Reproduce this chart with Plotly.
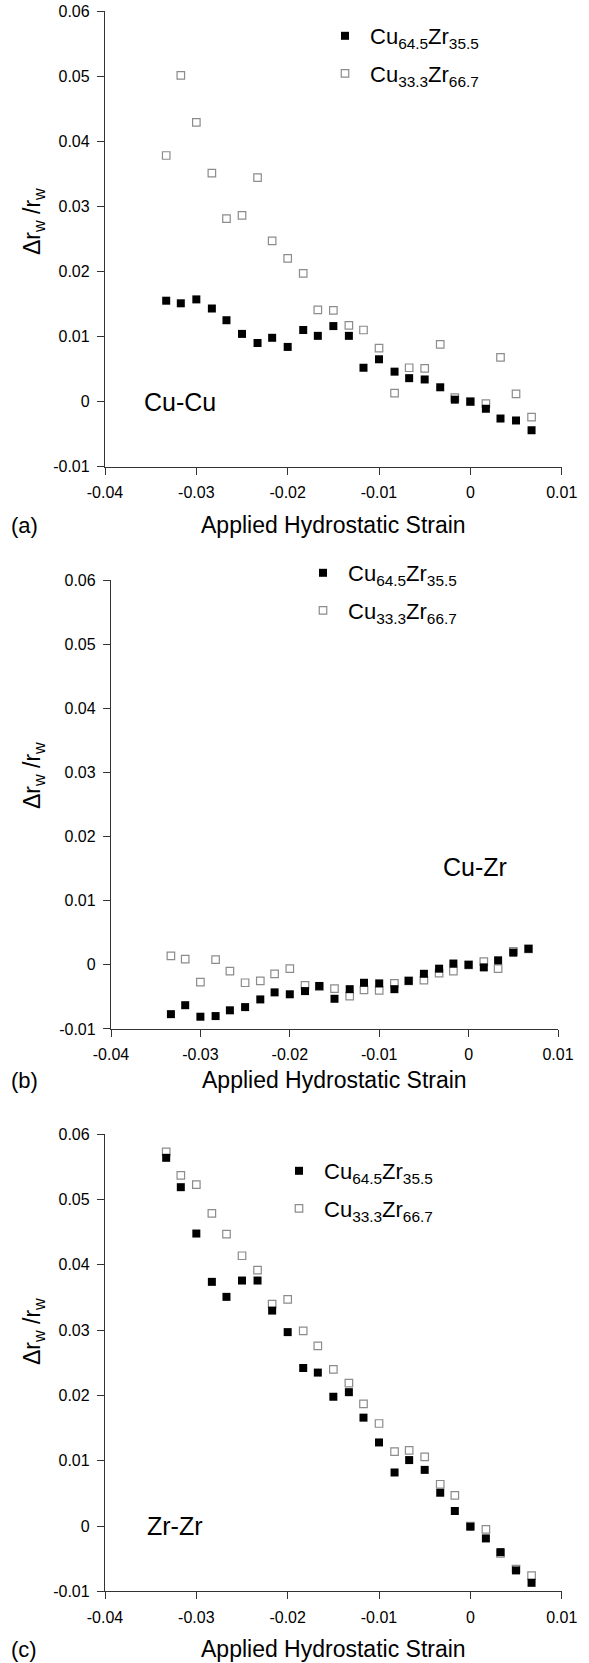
import plotly.graph_objects as go

# Applied hydrostatic strain (shared by all three panels)
strain = [-0.0333, -0.0317, -0.0300, -0.0283, -0.0267, -0.0250, -0.0233, -0.0217,
          -0.0200, -0.0183, -0.0167, -0.0150, -0.0133, -0.0117, -0.0100, -0.0083,
          -0.0067, -0.0050, -0.0033, -0.0017, 0.0000, 0.0017, 0.0033, 0.0050, 0.0067]

# (a) Cu-Cu
cucu_cu645 = [0.0155, 0.0151, 0.0157, 0.0143, 0.0125, 0.0104, 0.0090, 0.0098,
              0.0084, 0.0110, 0.0101, 0.0116, 0.0101, 0.0052, 0.0065, 0.0046,
              0.0036, 0.0034, 0.0022, 0.0003, 0.0000, -0.0011, -0.0026, -0.0029, -0.0044]
cucu_cu333 = [0.0378, 0.0501, 0.0429, 0.0351, 0.0281, 0.0286, 0.0344, 0.0247,
              0.0220, 0.0197, 0.0141, 0.0140, 0.0117, 0.0110, 0.0082, 0.0013,
              0.0052, 0.0051, 0.0088, 0.0006, 0.0000, -0.0003, 0.0068, 0.0012, -0.0024]

# (b) Cu-Zr
cuzr_cu645 = [-0.0077, -0.0063, -0.0081, -0.0080, -0.0071, -0.0066, -0.0054, -0.0043,
              -0.0046, -0.0041, -0.0033, -0.0053, -0.0038, -0.0028, -0.0029, -0.0038,
              -0.0025, -0.0014, -0.0006, 0.0002, 0.0000, -0.0004, 0.0007, 0.0019, 0.0025]
cuzr_cu333 = [0.0014, 0.0009, -0.0027, 0.0008, -0.0010, -0.0028, -0.0025, -0.0014,
              -0.0006, -0.0032, -0.0034, -0.0037, -0.0049, -0.0039, -0.0040, -0.0029,
              -0.0025, -0.0024, -0.0013, -0.0010, 0.0000, 0.0005, -0.0006, 0.0021, 0.0025]

# (c) Zr-Zr
zrzr_cu645 = [0.0564, 0.0519, 0.0448, 0.0374, 0.0351, 0.0376, 0.0376, 0.0330,
              0.0297, 0.0242, 0.0235, 0.0198, 0.0205, 0.0166, 0.0128, 0.0082,
              0.0101, 0.0086, 0.0051, 0.0023, -0.0001, -0.0019, -0.0040, -0.0068, -0.0087]
zrzr_cu333 = [0.0573, 0.0537, 0.0523, 0.0479, 0.0447, 0.0414, 0.0392, 0.0340,
              0.0347, 0.0299, 0.0276, 0.0240, 0.0219, 0.0187, 0.0157, 0.0114,
              0.0116, 0.0106, 0.0064, 0.0047, 0.0000, -0.0005, -0.0042, -0.0066, -0.0076]

x_ticks = [-0.04, -0.03, -0.02, -0.01, 0.0, 0.01]
x_ticktext = ["-0.04", "-0.03", "-0.02", "-0.01", "0", "0.01"]
y_ticks = [-0.01, 0.0, 0.01, 0.02, 0.03, 0.04, 0.05, 0.06]
y_ticktext = ["-0.01", "0", "0.01", "0.02", "0.03", "0.04", "0.05", "0.06"]

name_645 = "Cu<sub>64.5</sub>Zr<sub>35.5</sub>"
name_333 = "Cu<sub>33.3</sub>Zr<sub>66.7</sub>"

W, H = 589, 1663
FONT = "Liberation Sans, Arial, sans-serif"


def fx(p):
    return p / W


def fy(p):
    return 1 - p / H


# pixel layout of each panel: plot box, legend anchor, labels
panels = [
    dict(sfx="", leg="legend", data=(cucu_cu645, cucu_cu333), label="Cu-Cu",
         lab_xy=(-0.0318, 0.0), x0=105, x1=561.7, top=11, bot=466.7,
         leg_xy=(320, 15), title_y=525, ylab_y=222, tag="(a)"),
    dict(sfx="2", leg="legend2", data=(cuzr_cu645, cuzr_cu333), label="Cu-Zr",
         lab_xy=(0.0007, 0.0152), x0=111, x1=558, top=580.3, bot=1028.9,
         leg_xy=(298, 552), title_y=1080, ylab_y=776, tag="(b)"),
    dict(sfx="3", leg="legend3", data=(zrzr_cu645, zrzr_cu333), label="Zr-Zr",
         lab_xy=(-0.0323, 0.0), x0=105, x1=561.7, top=1134.3, bot=1591.3,
         leg_xy=(274, 1150), title_y=1649, ylab_y=1332, tag="(c)"),
]

fig = go.Figure()
layout = dict(
    width=W, height=H,
    margin=dict(l=0, r=0, t=0, b=0, autoexpand=False),
    paper_bgcolor="white", plot_bgcolor="white",
    font=dict(family=FONT, color="black"),
    showlegend=True, annotations=[],
)

for p in panels:
    xa, ya = "x" + p["sfx"], "y" + p["sfx"]
    filled, hollow = p["data"]
    # hollow series first so the filled squares sit on top where they overlap
    fig.add_trace(go.Scatter(
        x=strain, y=hollow, mode="markers", name=name_333,
        xaxis=xa, yaxis=ya, legend=p["leg"], legendrank=2,
        legendgroup="g333" + p["sfx"],
        marker=dict(symbol="square", size=7.5, color="white",
                    line=dict(color="#8c8c8c", width=1.2)),
        cliponaxis=False,
    ))
    fig.add_trace(go.Scatter(
        x=strain, y=filled, mode="markers", name=name_645,
        xaxis=xa, yaxis=ya, legend=p["leg"], legendrank=1,
        legendgroup="g645" + p["sfx"],
        marker=dict(symbol="square", size=8, color="black", line=dict(width=0)),
        cliponaxis=False,
    ))

    axis_common = dict(
        showgrid=False, zeroline=False, showline=True, linecolor="#333333",
        linewidth=1.3, ticks="outside", ticklen=7, tickwidth=1.3,
        tickcolor="#333333", tickfont=dict(size=16, family=FONT, color="black"),
        mirror=False, fixedrange=True, automargin=False,
    )
    layout["xaxis" + p["sfx"]] = dict(
        axis_common, range=[-0.04, 0.01], tickvals=x_ticks, ticktext=x_ticktext,
        domain=[fx(p["x0"]), fx(p["x1"])], anchor=ya, ticklabelstandoff=4,
    )
    layout["yaxis" + p["sfx"]] = dict(
        axis_common, range=[-0.01, 0.06], tickvals=y_ticks, ticktext=y_ticktext,
        domain=[fy(p["bot"]), fy(p["top"])], anchor=xa, ticklabelstandoff=4,
    )
    layout[p["leg"]] = dict(
        x=fx(p["leg_xy"][0]), y=fy(p["leg_xy"][1]), xanchor="left", yanchor="top",
        xref="paper", yref="paper", bgcolor="rgba(0,0,0,0)",
        font=dict(size=22, family=FONT, color="black"),
        itemwidth=40, tracegroupgap=6, traceorder="grouped",
    )
    ann = layout["annotations"]
    ann.append(dict(text=p["label"], x=p["lab_xy"][0], y=p["lab_xy"][1],
                    xref=xa, yref=ya, showarrow=False,
                    font=dict(size=25, family=FONT, color="black")))
    ann.append(dict(text="Applied Hydrostatic Strain",
                    x=fx((p["x0"] + p["x1"]) / 2), y=fy(p["title_y"]),
                    xref="paper", yref="paper", showarrow=False,
                    xanchor="center", yanchor="middle",
                    font=dict(size=23, family=FONT, color="black")))
    ann.append(dict(text=p["tag"], x=fx(24), y=fy(p["title_y"]),
                    xref="paper", yref="paper", showarrow=False,
                    xanchor="center", yanchor="middle",
                    font=dict(size=22, family=FONT, color="black")))
    ann.append(dict(text="Δr<sub>w</sub> /r<sub>w</sub>", textangle=-90,
                    x=fx(33), y=fy(p["ylab_y"]), xref="paper", yref="paper",
                    showarrow=False, xanchor="center", yanchor="middle",
                    font=dict(size=23, family=FONT, color="black")))

fig.update_layout(**layout)
fig.write_html("out.html")
